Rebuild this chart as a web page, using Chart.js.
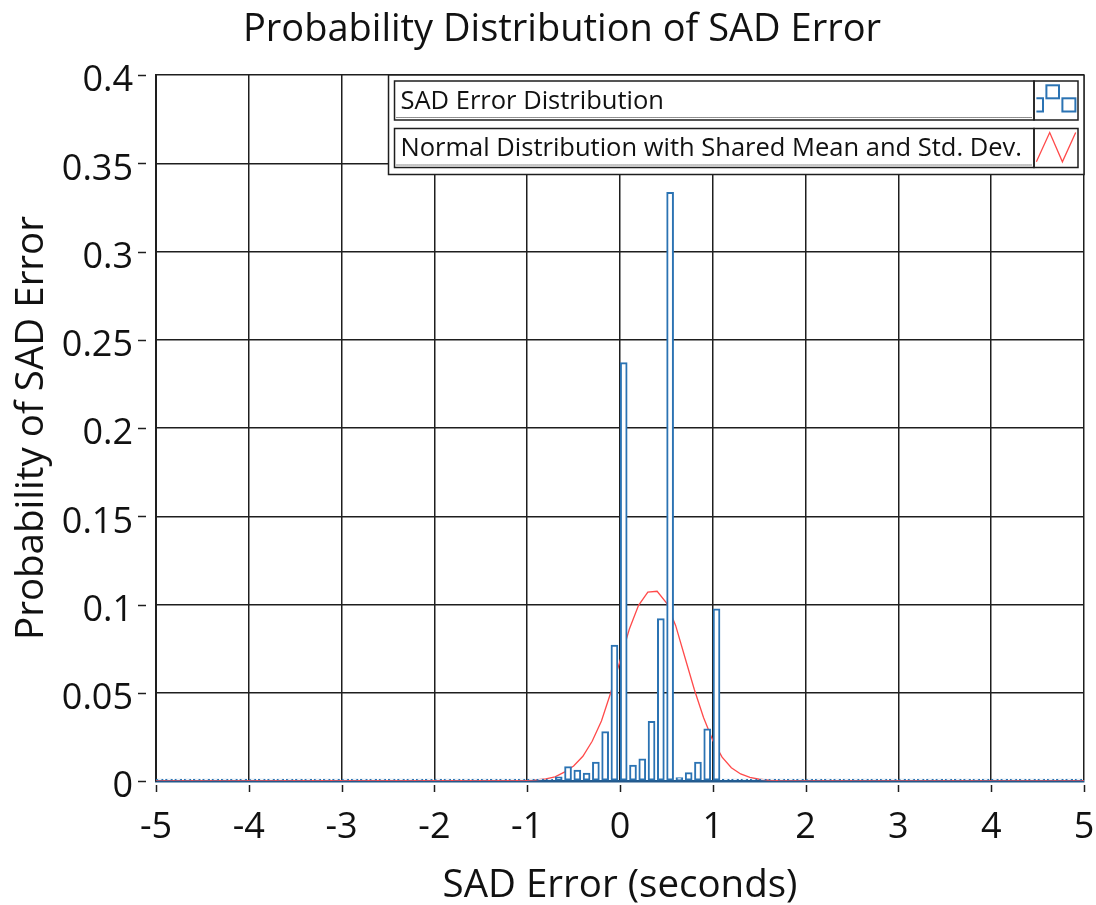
<!DOCTYPE html>
<html>
<head>
<meta charset="utf-8">
<title>Probability Distribution of SAD Error</title>
<script src="https://cdn.jsdelivr.net/npm/chart.js@4.4.1/dist/chart.umd.min.js"></script>
<style>
  html, body { margin: 0; padding: 0; background: #fff; }
</style>
</head>
<body>
<canvas id="chart" width="1096" height="905"></canvas>
<script>
// histogram bins: 100 bins of width 0.1, first centre at -4.96
const binStart = -4.96;
const binWidth = 0.1;
const errorProb = [
  0, 0, 0, 0, 0, 0, 0, 0, 0, 0,
  0, 0, 0, 0, 0, 0, 0, 0, 0, 0,
  0, 0, 0, 0, 0, 0, 0, 0, 0, 0,
  0, 0, 0, 0, 0, 0, 0, 0, 0, 0,
  0, 0.0005, 0.0011, 0.0024, 0.0081, 0.0062, 0.0045, 0.0107, 0.028, 0.077,
  0.237, 0.009, 0.0125, 0.0338, 0.092, 0.3335, 0.0019, 0.0047, 0.0107, 0.0295,
  0.0975, 0, 0, 0, 0, 0, 0, 0, 0, 0,
  0, 0, 0, 0, 0, 0, 0, 0, 0, 0,
  0, 0, 0, 0, 0, 0, 0, 0, 0, 0,
  0, 0, 0, 0, 0, 0, 0, 0, 0, 0
];

// normal curve
const normalX = [-5, -1.0, -0.9, -0.8, -0.7, -0.6, -0.5, -0.4, -0.3, -0.2, -0.1, 0.0, 0.1, 0.2, 0.3, 0.4,
  0.5, 0.6, 0.7, 0.8, 0.9, 1.0, 1.1, 1.2, 1.3, 1.4, 1.5, 1.6, 1.7, 5];
const normalY = [0, 0.0003, 0.0006, 0.0012, 0.0024, 0.005, 0.0085, 0.014, 0.0225, 0.034, 0.05, 0.068, 0.086, 0.0995, 0.107, 0.1075,
  0.101, 0.088, 0.07, 0.052, 0.036, 0.023, 0.0135, 0.0075, 0.004, 0.002, 0.001, 0.0005, 0.0002, 0];

const seriesNames = ["SAD Error Distribution", "Normal Distribution with Shared Mean and Std. Dev."];
const chartTitle = "Probability Distribution of SAD Error";
const xTitle = "SAD Error (seconds)";
const yTitle = "Probability of SAD Error";

const FONT = '"Open Sans", "Noto Sans", sans-serif';
const blue = "#2b73b3";
const red = "#ff4a4a";
const ink = "#1e1e1e";

const bins = errorProb.map((p, i) => ({ x: +(binStart + i * binWidth).toFixed(2), y: p }));
const curve = normalX.map((x, i) => ({ x, y: normalY[i] }));

// little tick marks sitting off the axes
const outerTicks = {
  id: "outerTicks",
  afterDraw(chart) {
    const { ctx, chartArea, scales } = chart;
    ctx.save();
    ctx.strokeStyle = ink;
    ctx.lineWidth = 1.5;
    scales.x.ticks.forEach(t => {
      const px = Math.round(scales.x.getPixelForValue(t.value)) + 0.5;
      ctx.beginPath();
      ctx.moveTo(px, chartArea.bottom + 4);
      ctx.lineTo(px, chartArea.bottom + 11);
      ctx.stroke();
    });
    scales.y.ticks.forEach(t => {
      const py = Math.round(scales.y.getPixelForValue(t.value)) + 0.5;
      ctx.beginPath();
      ctx.moveTo(chartArea.left - 18, py);
      ctx.lineTo(chartArea.left - 10, py);
      ctx.stroke();
    });
    ctx.restore();
  }
};

// boxed legend in the top right corner
const boxLegend = {
  id: "boxLegend",
  afterDraw(chart) {
    const { ctx, chartArea } = chart;
    ctx.save();
    ctx.font = "25.5px " + FONT;
    const textW = Math.max(...seriesNames.map(s => ctx.measureText(s).width));
    const iconW = 44, rowH = 39, rowGap = 8.5;
    const right = chartArea.right, top = chartArea.top;
    const iconL = right - 6 - iconW;
    const textL = iconL - (textW + 18);
    const outerL = textL - 6;
    const outerH = 6 + rowH + rowGap + rowH + 7;

    ctx.fillStyle = "#fff";
    ctx.fillRect(outerL, top, right - outerL, outerH);
    ctx.strokeStyle = ink;
    ctx.lineWidth = 1.5;
    ctx.strokeRect(outerL, top, right - outerL, outerH);

    seriesNames.forEach((name, i) => {
      const rT = top + 6 + i * (rowH + rowGap);
      ctx.strokeStyle = ink;
      ctx.lineWidth = 1.5;
      ctx.strokeRect(textL, rT, iconL - textL, rowH);
      ctx.strokeRect(iconL, rT, iconW, rowH);
      ctx.setLineDash([1, 1]);
      ctx.lineWidth = 1;
      ctx.beginPath();
      ctx.moveTo(textL + 2, rT + rowH - 2.5);
      ctx.lineTo(iconL - 2, rT + rowH - 2.5);
      ctx.stroke();
      ctx.setLineDash([]);

      ctx.fillStyle = "#111";
      ctx.textBaseline = "middle";
      ctx.textAlign = "left";
      ctx.fillText(name, textL + 6, rT + rowH / 2 + 1);

      if (i === 0) {
        ctx.strokeStyle = blue;
        ctx.lineWidth = 2;
        ctx.beginPath();
        ctx.moveTo(iconL + 2.4, rT + 17.3);
        ctx.lineTo(iconL + 9, rT + 17.3);
        ctx.lineTo(iconL + 9, rT + 30.5);
        ctx.lineTo(iconL + 2.4, rT + 30.5);
        ctx.stroke();
        ctx.strokeRect(iconL + 12.4, rT + 4.3, 12.6, 13);
        ctx.strokeRect(iconL + 28.4, rT + 17.3, 13, 13.2);
      } else {
        ctx.strokeStyle = red;
        ctx.lineWidth = 1.3;
        ctx.beginPath();
        ctx.moveTo(iconL + 2.4, rT + 33.3);
        ctx.lineTo(iconL + 15.7, rT + 4);
        ctx.lineTo(iconL + 28.4, rT + 33.3);
        ctx.lineTo(iconL + 41.7, rT + 4);
        ctx.stroke();
      }
    });
    ctx.restore();
  }
};

const ctx = document.getElementById("chart").getContext("2d");
new Chart(ctx, {
  type: "line",
  data: {
    datasets: [
      {
        type: "bar",
        label: seriesNames[0],
        data: bins,
        backgroundColor: "#ffffff",
        borderColor: blue,
        borderWidth: 2,
        borderSkipped: false,
        barThickness: 7,
        minBarLength: 2,
        clip: 2,
        order: 0,
      },
      {
        type: "line",
        label: seriesNames[1],
        data: curve,
        borderColor: red,
        borderWidth: 1.3,
        pointRadius: 0,
        tension: 0,
        fill: false,
        order: 1,
      },
    ],
  },
  options: {
    responsive: false,
    animation: false,
    layout: { padding: { left: 40, right: 12, top: 0, bottom: 0 } },
    plugins: {
      legend: { display: false },
      tooltip: { enabled: false },
      title: {
        display: true,
        text: chartTitle,
        color: "#111",
        font: { family: FONT, size: 38, weight: "normal", lineHeight: 1.2 },
        padding: { top: 7, bottom: 22.4 },
      },
    },
    scales: {
      x: {
        type: "linear",
        min: -5,
        max: 5,
        offset: false,
        grid: { color: ink, lineWidth: 1.5, drawTicks: false, offset: false },
        border: { color: "#22598c", width: 2.5 },
        ticks: {
          stepSize: 1,
          padding: 25,
          color: "#111",
          font: { family: FONT, size: 36 },
          maxRotation: 0,
          callback: v => String(v),
        },
        title: {
          display: true,
          text: xTitle,
          color: "#111",
          font: { family: FONT, size: 38.5, lineHeight: 1.2 },
          padding: { top: 0, bottom: -4 },
        },
        afterFit(scale) {
          scale.height = 124;
          scale.paddingLeft = 0;
          scale.paddingRight = 0;
        },
      },
      y: {
        type: "linear",
        min: 0,
        max: 0.4,
        grid: { color: ink, lineWidth: 1.5, drawTicks: false },
        border: { color: ink, width: 2 },
        ticks: {
          stepSize: 0.05,
          padding: 23,
          labelOffset: 6,
          color: "#111",
          font: { family: FONT, size: 36 },
          callback: v => String(+v.toFixed(2)),
        },
        title: {
          display: true,
          text: yTitle,
          color: "#111",
          font: { family: FONT, size: 38.5, lineHeight: 1.2 },
          padding: { top: -31.5, bottom: 0 },
        },
        afterFit(scale) {
          scale.width = 116;
          scale.paddingTop = 0;
          scale.paddingBottom = 0;
        },
      },
    },
  },
  plugins: [outerTicks, boxLegend],
});
</script>
</body>
</html>
